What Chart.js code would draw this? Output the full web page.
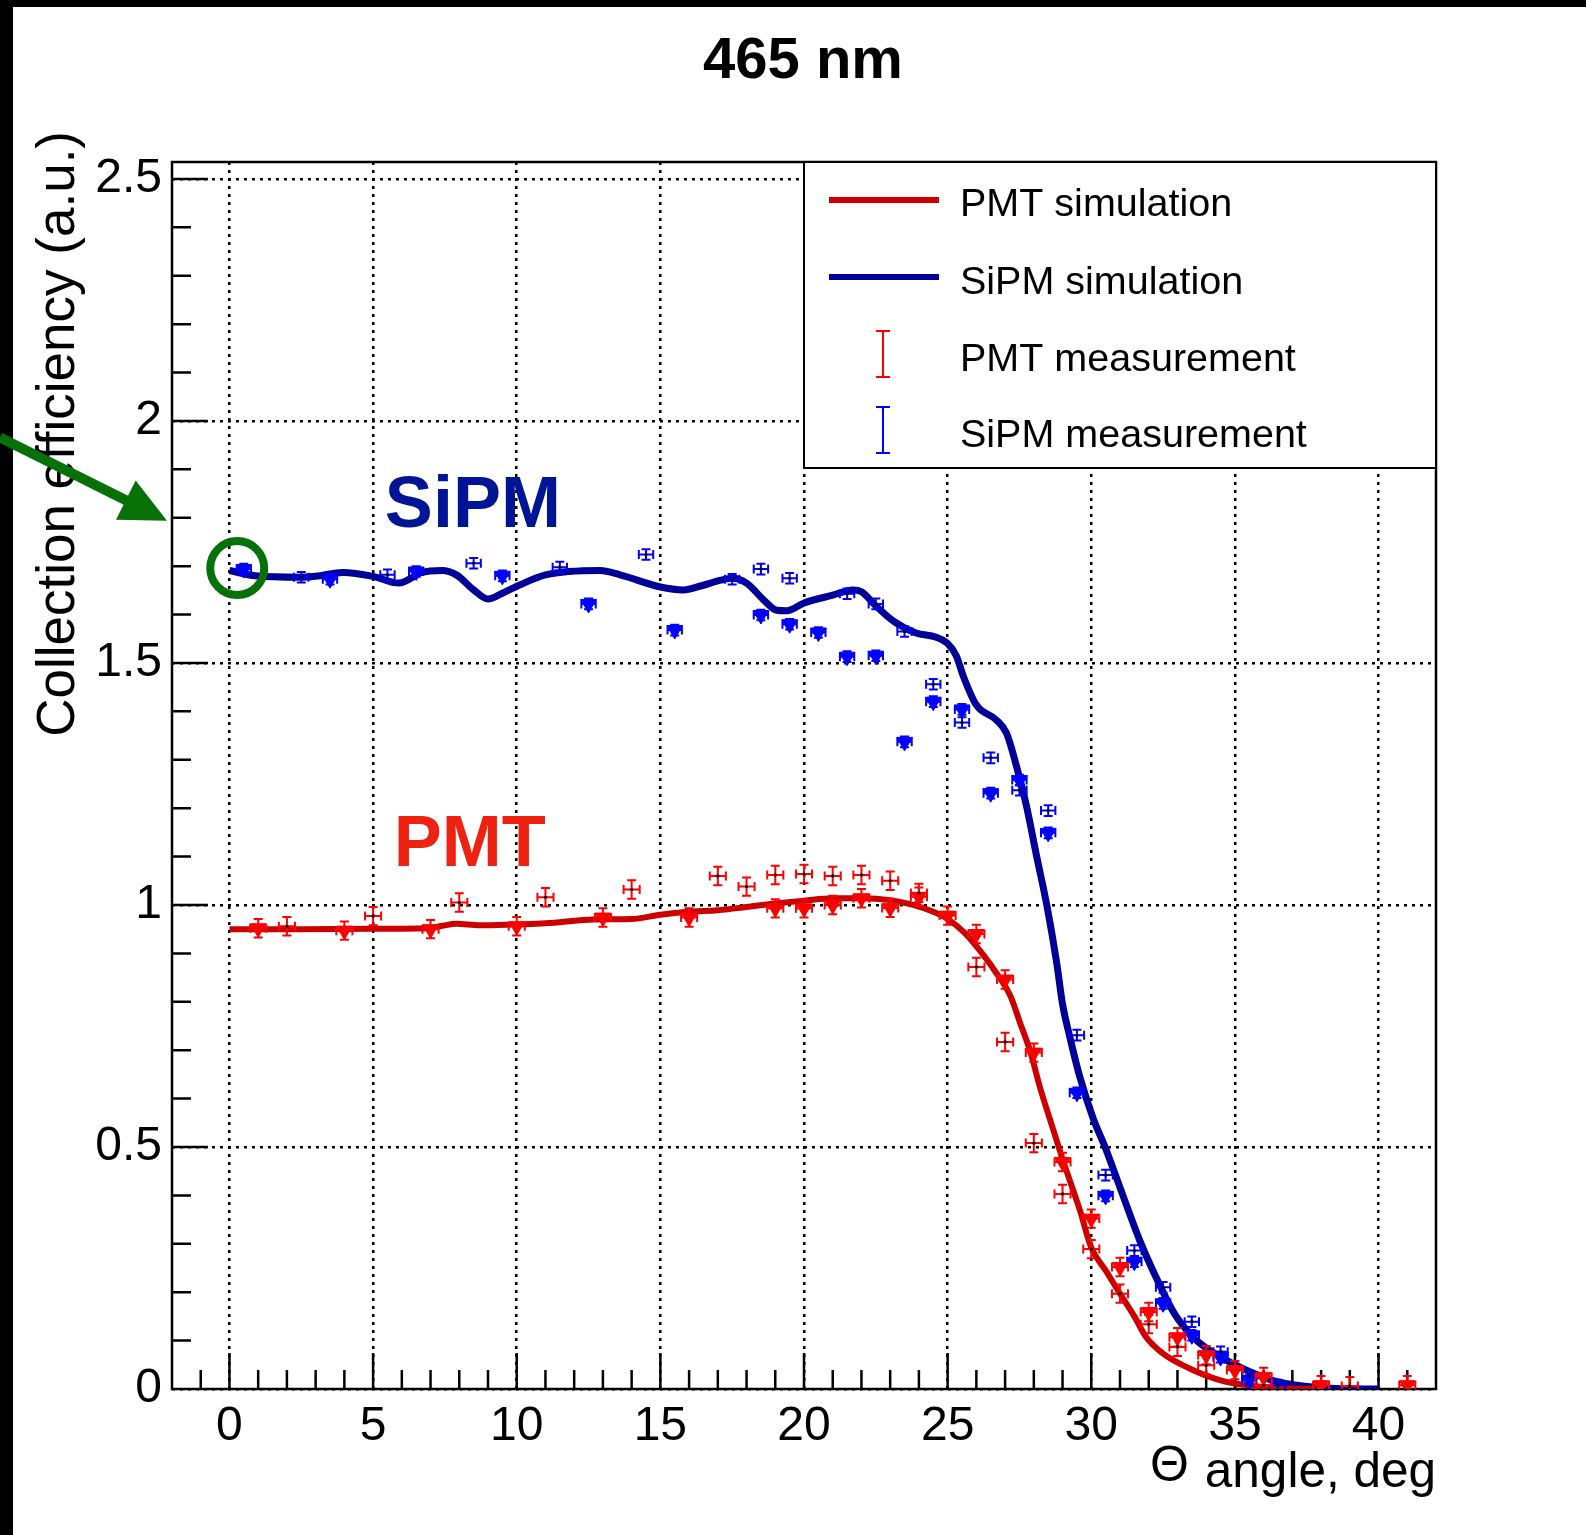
<!DOCTYPE html>
<html>
<head>
<meta charset="utf-8">
<title>465 nm</title>
<script src="https://cdn.jsdelivr.net/npm/chart.js@4.4.1/dist/chart.umd.min.js"></script>
<style>
  html, body { margin: 0; padding: 0; background: #fff; }
  #wrap { width: 1586px; height: 1535px; }
</style>
</head>
<body>
<div id="wrap"><canvas id="effChart" width="1586" height="1535"></canvas></div>
<script>
  // axis ticks
  const xTickValues = [0, 5, 10, 15, 20, 25, 30, 35, 40];
  const xTickLabels = ['0', '5', '10', '15', '20', '25', '30', '35', '40'];
  const yTickValues = [0, 0.5, 1, 1.5, 2, 2.5];
  const yTickLabels = ['0', '0.5', '1', '1.5', '2', '2.5'];

  // simulation curves (angle in deg, efficiency in a.u.)
  const pmtSimAngle = [0, 2.5, 5, 6.9, 7.4, 7.9, 8.7, 10, 11, 12.7, 14, 15, 16, 17, 18, 19, 20, 21, 22, 23, 23.8, 24.5, 25,
    25.6, 26.2, 26.7, 27.2, 27.5, 27.9, 28.2, 28.6, 29, 29.6, 30, 30.5, 31, 31.5, 31.9, 32.5, 33.4, 34.5, 35.4, 36.5, 37.8];
  const pmtSimEff = [0.950, 0.950, 0.951, 0.952, 0.957, 0.961, 0.958, 0.960, 0.962, 0.970, 0.971, 0.980, 0.986, 0.989, 0.996,
    1.003, 1.009, 1.014, 1.014, 1.010, 1.000, 0.986, 0.971, 0.942, 0.900, 0.859, 0.810, 0.760, 0.693, 0.626, 0.550, 0.475,
    0.370, 0.292, 0.245, 0.197, 0.150, 0.108, 0.073, 0.043, 0.018, 0.008, 0.002, 0];

  const sipmSimAngle = [0, 0.9, 2.45, 3, 3.95, 5, 5.9, 6.7, 7.4, 7.9, 8.5, 9, 9.5, 10.1, 11, 12.9, 13.6, 15, 15.8, 16.4, 17.1,
    17.5, 18, 18.6, 19.05, 19.4, 20, 21, 21.7, 22, 22.5, 23.1, 23.9, 24.6, 25, 25.3, 25.55, 26, 26.7, 27.05, 27.4, 27.75, 28.1,
    28.45, 28.8, 29, 29.25, 29.6, 30.06, 30.5, 31.1, 31.7, 32.3, 32.9, 33.6, 34.5, 35.4, 36.3, 37.5, 38.5, 40];
  const sipmSimEff = [1.691, 1.680, 1.677, 1.679, 1.687, 1.679, 1.665, 1.687, 1.691, 1.682, 1.651, 1.632, 1.644, 1.661, 1.682,
    1.691, 1.682, 1.657, 1.651, 1.659, 1.671, 1.675, 1.665, 1.630, 1.609, 1.608, 1.624, 1.640, 1.651, 1.647, 1.618, 1.587,
    1.562, 1.553, 1.540, 1.515, 1.472, 1.413, 1.382, 1.355, 1.286, 1.203, 1.100, 1.000, 0.879, 0.795, 0.728, 0.645, 0.560,
    0.497, 0.400, 0.305, 0.225, 0.155, 0.104, 0.066, 0.039, 0.018, 0.005, 0.001, 0];

  // PMT measurement: open points and filled (triangle) points
  const pmtOpenAngle = [2, 5, 8, 11, 14, 17, 18, 19, 20, 21, 22, 23, 24, 26, 27, 28, 29, 30, 31, 32, 33, 34, 36, 39];
  const pmtOpenEff = [0.956, 0.977, 1.005, 1.016, 1.032, 1.060, 1.038, 1.062, 1.064, 1.060, 1.062, 1.050, 1.025, 0.872,
    0.717, 0.508, 0.403, 0.289, 0.197, 0.134, 0.087, 0.049, 0.008, 0.006];
  const pmtFillAngle = [1, 4, 7, 10, 13, 16, 19, 20, 21, 22, 23, 24, 25, 26, 27, 28, 29, 30, 31, 32, 33, 34, 35, 36, 38, 41];
  const pmtFillEff = [0.952, 0.947, 0.950, 0.956, 0.974, 0.974, 0.993, 0.993, 1.000, 1.014, 0.994, 1.017, 0.978, 0.940,
    0.846, 0.695, 0.469, 0.352, 0.252, 0.159, 0.107, 0.070, 0.039, 0.025, 0.008, 0.008];

  // SiPM measurement: open points and filled (triangle) points
  const sipmOpenAngle = [2.5, 5.5, 8.5, 11.5, 14.5, 17.5, 18.5, 19.5, 21.5, 22.5, 23.5, 24.5, 25.5, 26.5, 27.5, 28.5, 29.5,
    30.5, 31.5, 32.5, 33.5, 34.5, 35.5, 36.5];
  const sipmOpenEff = [1.677, 1.682, 1.706, 1.698, 1.724, 1.673, 1.694, 1.675, 1.643, 1.622, 1.565, 1.456, 1.377, 1.304,
    1.237, 1.195, 0.731, 0.442, 0.286, 0.210, 0.139, 0.077, 0.027, 0.008];
  const sipmFillAngle = [0.5, 3.5, 6.5, 9.5, 12.5, 15.5, 18.5, 19.5, 20.5, 21.5, 22.5, 23.5, 24.5, 25.5, 26.5, 27.5, 28.5,
    29.5, 30.5, 31.5, 32.5, 33.5, 34.5, 35.5];
  const sipmFillEff = [1.694, 1.673, 1.689, 1.680, 1.622, 1.568, 1.599, 1.580, 1.563, 1.513, 1.515, 1.337, 1.420, 1.404,
    1.231, 1.258, 1.149, 0.612, 0.399, 0.263, 0.177, 0.111, 0.066, 0.018];

  // measurement uncertainties
  const pmtErrAngle = 0.28, pmtErrEff = 0.019;
  const sipmErrAngle = 0.25, sipmErrEff = 0.011;

  const FONT = '"Liberation Sans", Arial, Helvetica, sans-serif';
  const toPoints = (xs, ys) => xs.map((v, i) => ({ x: v, y: ys[i] }));

  // white page with the black frame edges
  const pageBackground = {
    id: 'pageBackground',
    beforeDraw(chart) {
      const ctx = chart.ctx;
      ctx.save();
      ctx.fillStyle = '#fff';
      ctx.fillRect(0, 0, chart.width, chart.height);
      ctx.fillStyle = '#000';
      ctx.fillRect(0, 0, chart.width, 7);
      ctx.fillRect(0, 0, 13, chart.height);
      ctx.restore();
    }
  };

  // ROOT style frame with inward ticks
  const frameTicks = {
    id: 'frameTicks',
    beforeDatasetsDraw(chart) {
      const { ctx, chartArea: a, scales: { x, y } } = chart;
      ctx.save();
      ctx.strokeStyle = '#000';
      ctx.lineWidth = 2.5;
      ctx.beginPath();
      for (let v = Math.ceil(x.min); v < x.max; v++) {
        if (v <= x.min) continue;
        const px = x.getPixelForValue(v);
        const len = v % 5 === 0 ? 36 : 19;
        ctx.moveTo(px, a.bottom);
        ctx.lineTo(px, a.bottom - len);
      }
      for (let k = 1; k * 0.1 < y.max; k++) {
        const py = y.getPixelForValue(k * 0.1);
        const len = k % 5 === 0 ? 36 : 19;
        ctx.moveTo(a.left, py);
        ctx.lineTo(a.left + len, py);
      }
      ctx.stroke();
      ctx.strokeRect(a.left, a.top, a.width, a.height);
      ctx.restore();
    }
  };

  // error bars with end caps, drawn just before each measurement dataset
  const errorBars = {
    id: 'errorBars',
    beforeDatasetDraw(chart, args) {
      const ds = chart.data.datasets[args.index];
      if (!ds.errorBar) return;
      const { ctx, chartArea: a, scales: { x, y } } = chart;
      const cap = 4.5;
      ctx.save();
      ctx.beginPath();
      ctx.rect(a.left, a.top, a.width, a.height);
      ctx.clip();
      ctx.strokeStyle = ds.errorBar.color;
      ctx.lineWidth = 2;
      ctx.beginPath();
      ds.data.forEach(p => {
        const px = x.getPixelForValue(p.x), py = y.getPixelForValue(p.y);
        const x0 = x.getPixelForValue(p.x - ds.errorBar.dx), x1 = x.getPixelForValue(p.x + ds.errorBar.dx);
        const y0 = y.getPixelForValue(p.y - ds.errorBar.dy), y1 = y.getPixelForValue(p.y + ds.errorBar.dy);
        ctx.moveTo(x0, py); ctx.lineTo(x1, py);
        ctx.moveTo(px, y0); ctx.lineTo(px, y1);
        ctx.moveTo(x0, py - cap); ctx.lineTo(x0, py + cap);
        ctx.moveTo(x1, py - cap); ctx.lineTo(x1, py + cap);
        ctx.moveTo(px - cap, y0); ctx.lineTo(px + cap, y0);
        ctx.moveTo(px - cap, y1); ctx.lineTo(px + cap, y1);
      });
      ctx.stroke();
      ctx.restore();
    }
  };

  // legend box in the top right corner of the frame
  const rootLegend = {
    id: 'rootLegend',
    afterDatasetsDraw(chart) {
      const { ctx, chartArea: a } = chart;
      const left = 804, top = a.top, right = a.right, bottom = 468;
      ctx.save();
      ctx.fillStyle = '#fff';
      ctx.fillRect(left, top, right - left, bottom - top);
      ctx.strokeStyle = '#000';
      ctx.lineWidth = 2;
      ctx.strokeRect(left, top, right - left, bottom - top);

      const ds = chart.data.datasets;
      const entries = [
        { text: 'PMT simulation', kind: 'line', color: ds[4].borderColor, y: 200, base: 216 },
        { text: 'SiPM simulation', kind: 'line', color: ds[5].borderColor, y: 277, base: 294 },
        { text: 'PMT measurement', kind: 'bar', color: ds[0].errorBar.color, y: 354, base: 371 },
        { text: 'SiPM measurement', kind: 'bar', color: ds[2].errorBar.color, y: 430, base: 447 }
      ];
      entries.forEach(e => {
        ctx.strokeStyle = e.color;
        ctx.beginPath();
        if (e.kind === 'line') {
          ctx.lineWidth = 6;
          ctx.moveTo(829, e.y); ctx.lineTo(939, e.y);
        } else {
          ctx.lineWidth = 2;
          ctx.moveTo(883, e.y - 23); ctx.lineTo(883, e.y + 23);
          ctx.moveTo(876, e.y - 23); ctx.lineTo(890, e.y - 23);
          ctx.moveTo(876, e.y + 23); ctx.lineTo(890, e.y + 23);
        }
        ctx.stroke();
        ctx.fillStyle = '#000';
        ctx.font = '39.5px ' + FONT;
        ctx.textAlign = 'left';
        ctx.textBaseline = 'alphabetic';
        ctx.fillText(e.text, 960, e.base);
      });
      ctx.restore();
    }
  };

  // title, axis titles, curve names and the green marker
  const annotations = {
    id: 'annotations',
    afterDraw(chart) {
      const { ctx, chartArea: a, scales: { x, y } } = chart;
      ctx.save();
      ctx.fillStyle = '#000';
      ctx.textBaseline = 'alphabetic';

      ctx.font = 'bold 58px ' + FONT;
      ctx.textAlign = 'center';
      ctx.fillText('465 nm', 803, 78);

      ctx.font = '49.5px ' + FONT;
      ctx.textAlign = 'right';
      ctx.fillText('angle, deg', a.right, 1487);
      ctx.textAlign = 'left';
      ctx.font = '50px ' + FONT;
      ctx.fillText('\u0398', 1150, 1481);

      ctx.save();
      ctx.translate(74, 131);
      ctx.rotate(-Math.PI / 2);
      ctx.font = '53px ' + FONT;
      ctx.textAlign = 'right';
      ctx.fillText('Collection efficiency (a.u.)', 0, 0);
      ctx.restore();

      ctx.font = 'bold 72px ' + FONT;
      ctx.textAlign = 'left';
      ctx.fillStyle = '#001496';
      ctx.fillText('SiPM', x.getPixelForValue(5.41), y.getPixelForValue(1.781));
      ctx.fillStyle = '#ee2211';
      ctx.fillText('PMT', x.getPixelForValue(5.72), y.getPixelForValue(1.080));

      // green circle around the first SiPM point and the arrow pointing at the axis
      const green = '#077007';
      ctx.strokeStyle = green;
      ctx.fillStyle = green;
      ctx.lineWidth = 8;
      ctx.beginPath();
      ctx.arc(x.getPixelForValue(0.27), y.getPixelForValue(1.696), 27, 0, Math.PI * 2);
      ctx.stroke();

      const tipX = a.left - 5, tipY = y.getPixelForValue(1.794);
      const ang = 26.5 * Math.PI / 180;
      const ux = Math.cos(ang), uy = Math.sin(ang);
      const headLen = 46, headHalf = 22;
      const bx = tipX - ux * headLen, by = tipY - uy * headLen;
      ctx.lineWidth = 10;
      ctx.beginPath();
      ctx.moveTo(0, by - uy / ux * bx);
      ctx.lineTo(bx + ux * 4, by + uy * 4);
      ctx.stroke();
      ctx.beginPath();
      ctx.moveTo(tipX, tipY);
      ctx.lineTo(bx + uy * headHalf, by - ux * headHalf);
      ctx.lineTo(bx - uy * headHalf, by + ux * headHalf);
      ctx.closePath();
      ctx.fill();
      ctx.restore();
    }
  };

  const ctx = document.getElementById('effChart').getContext('2d');
  const effChart = new Chart(ctx, {
    type: 'scatter',
    data: {
      datasets: [
        {
          label: 'PMT measurement',
          data: toPoints(pmtOpenAngle, pmtOpenEff),
          pointRadius: 1.6,
          pointBackgroundColor: '#000',
          pointBorderWidth: 0,
          errorBar: { dx: pmtErrAngle, dy: pmtErrEff, color: '#ff0000' },
        },
        {
          label: 'PMT measurement (filled)',
          data: toPoints(pmtFillAngle, pmtFillEff),
          pointStyle: 'triangle',
          rotation: 180,
          pointRadius: 9,
          pointBackgroundColor: '#ff0000',
          pointBorderColor: '#ff0000',
          pointBorderWidth: 1,
          errorBar: { dx: pmtErrAngle, dy: pmtErrEff, color: '#ff0000' },
        },
        {
          label: 'SiPM measurement',
          data: toPoints(sipmOpenAngle, sipmOpenEff),
          pointRadius: 1.6,
          pointBackgroundColor: '#000',
          pointBorderWidth: 0,
          errorBar: { dx: sipmErrAngle, dy: sipmErrEff, color: '#0000ff' },
        },
        {
          label: 'SiPM measurement (filled)',
          data: toPoints(sipmFillAngle, sipmFillEff),
          pointStyle: 'triangle',
          rotation: 180,
          pointRadius: 9,
          pointBackgroundColor: '#0000ff',
          pointBorderColor: '#0000ff',
          pointBorderWidth: 1,
          errorBar: { dx: sipmErrAngle, dy: sipmErrEff, color: '#0000ff' },
        },
        {
          label: 'PMT simulation',
          data: toPoints(pmtSimAngle, pmtSimEff),
          showLine: true,
          borderColor: '#cc0000',
          borderWidth: 6,
          pointRadius: 0,
          cubicInterpolationMode: 'monotone',
        },
        {
          label: 'SiPM simulation',
          data: toPoints(sipmSimAngle, sipmSimEff),
          showLine: true,
          borderColor: '#000099',
          borderWidth: 7,
          pointRadius: 0,
          cubicInterpolationMode: 'monotone',
        },
      ],
    },
    options: {
      responsive: false,
      devicePixelRatio: 1,
      animation: false,
      events: [],
      layout: { padding: { top: 162, right: 150, left: 0, bottom: 0 } },
      plugins: {
        legend: { display: false },
        title: { display: false },
        tooltip: { enabled: false },
      },
      scales: {
        x: {
          type: 'linear',
          min: -2,
          max: 42,
          afterBuildTicks: scale => { scale.ticks = xTickValues.map(v => ({ value: v })); },
          afterFit: scale => { scale.height = 146; },
          grid: { color: '#000', lineWidth: 2.5, drawTicks: false },
          border: { display: false, dash: [3, 5] },
          ticks: {
            color: '#000',
            padding: 9,
            maxRotation: 0,
            font: { family: FONT, size: 48 },
            callback: (v) => xTickLabels[xTickValues.indexOf(v)],
          },
        },
        y: {
          type: 'linear',
          min: 0,
          max: 2.535,
          afterBuildTicks: scale => { scale.ticks = yTickValues.map(v => ({ value: v })); },
          afterFit: scale => { scale.width = 172; },
          grid: { color: '#000', lineWidth: 2.5, drawTicks: false },
          border: { display: false, dash: [3, 5] },
          ticks: {
            color: '#000',
            padding: 10,
            font: { family: FONT, size: 48 },
            callback: (v) => yTickLabels[yTickValues.indexOf(v)],
          },
        },
      },
    },
    plugins: [pageBackground, frameTicks, errorBars, rootLegend, annotations],
  });
</script>
</body>
</html>
